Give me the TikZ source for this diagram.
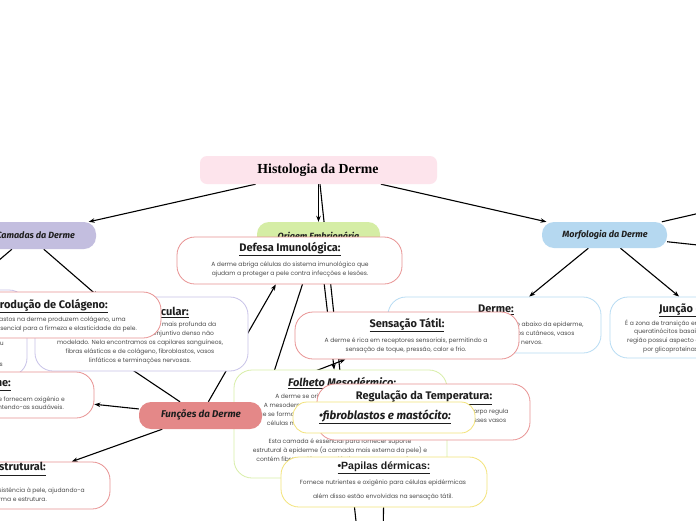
\documentclass[tikz,border=0pt]{standalone}
\usepackage{fontspec}
\setmainfont{Poppins}
\newfontfamily\hand{Fira Sans}
\newfontfamily\rootf{Liberation Serif}
\newfontfamily\robo{Liberation Sans}
\usetikzlibrary{arrows.meta,backgrounds}

\definecolor{rootfill}{HTML}{FDE4EC}
\definecolor{lavfill}{HTML}{C3BEDF}
\definecolor{greenfill}{HTML}{D5EDA5}
\definecolor{bluefill}{HTML}{B5D8F0}
\definecolor{salmonfill}{HTML}{E48888}
\definecolor{pinkline}{HTML}{E89393}
\definecolor{lavline}{HTML}{C8C3E8}
\definecolor{blueline}{HTML}{B8DCF3}
\definecolor{greenline}{HTML}{D8EEA8}
\definecolor{yelline}{HTML}{F3E37A}
\definecolor{bodytxt}{HTML}{4A4A4A}
\definecolor{ttltxt}{HTML}{1E1E1E}

\tikzset{
  conn/.style={line width=1.1pt, black},
  arr/.style={-{Stealth[length=6pt,width=4.5pt]}},
  fbox/.style={rounded corners=12pt, inner sep=0pt, draw=none},
  tbox/.style={rounded corners=18pt, fill=white, line width=0.8pt, inner sep=0pt},
  ttl/.style={inner sep=0pt, font=\hand\bfseries\fontsize{11}{13}\selectfont, text=ttltxt},
  bdy/.style={inner sep=0pt, align=center, font=\fontsize{6}{9}\selectfont, text=bodytxt},
  lbl/.style={inner sep=0pt, font=\hand\bfseries\itshape\fontsize{9}{11}\selectfont, text=ttltxt},
}

\begin{document}
\begin{tikzpicture}[x=1pt,y=-1pt]
\useasboundingbox (0,0) rectangle (696,520);

% root
\node[fbox,fill=rootfill,rounded corners=7pt,minimum width=237pt,minimum height=28pt] (root) at (318.5,170) {};
\node[inner sep=0pt,font=\rootf\bfseries\fontsize{13.8}{16}\selectfont] (rootT) at (318,170.5) {Histologia da Derme};

\node[fbox,fill=lavfill,minimum width=136pt,minimum height=27pt] (camadas) at (28,235.5) {};
\node[lbl,anchor=east] (camadasT) at (75,235) {Camadas da Derme};

\node[fbox,fill=greenfill,minimum width=123pt,minimum height=26pt] (origem) at (318.5,235) {};
\node[lbl] (origemT) at (318.5,236.5) {Origem Embrionária};

\node[fbox,fill=bluefill,minimum width=125pt,minimum height=26pt] (morf) at (604.5,235) {};
\node[lbl] (morfT) at (605,234.5) {Morfologia da Derme};

% defesa
\node[tbox,draw=pinkline,minimum width=225pt,minimum height=47pt] (defesa) at (289.5,260.5) {};
\node[ttl] (defesaT) at (290,249) {\underline{Defesa Imunológica:}};
\node[bdy] (defesaB) at (290,269.5) {A derme abriga células do sistema imunológico que\\ajudam a proteger a pele contra infecções e lesões.};

% papilar
\node[tbox,draw=lavline,minimum width=227pt,minimum height=86pt] (papilar) at (-86.5,333) {};
\node[bdy,anchor=east] (papilarB1) at (4,343) {É a camada mais superficial, formada por tecido conjuntivo frouxo ou};
\node[bdy,anchor=east] (papilarB2) at (3,365) {capilares sanguíneos e terminações nervosas};

% reticular
\node[tbox,draw=lavline,minimum width=213pt,minimum height=74pt] (reticular) at (141.5,334) {};
\node[ttl,anchor=east] (reticularT) at (189,312) {\underline{Camada Reticular:}};
\node[bdy] (reticularB) at (140,343) {A camada reticular é a camada mais profunda da\\derme, formada por tecido conjuntivo denso não\\modelado. Nela encontramos os capilares sanguíneos,\\fibras elásticas e de colágeno, fibroblastos, vasos\\linfáticos e terminações nervosas.};

% producao
\node[tbox,draw=pinkline,minimum width=221pt,minimum height=46pt] (producao) at (50.5,315) {};
\node[ttl,anchor=east] (producaoT) at (108,306) {\underline{Produção de Colágeno:}};
\node[bdy,anchor=east] (producaoB1) at (126,320) {Os fibroblastos na derme produzem colágeno, uma};
\node[bdy,anchor=east] (producaoB2) at (137,329) {proteína essencial para a firmeza e elasticidade da pele.};

% nutricao
\node[tbox,draw=pinkline,minimum width=174pt,minimum height=46pt] (nutricao) at (7,395) {};
\node[ttl,anchor=east] (nutricaoT) at (11,384) {\underline{Nutrição da Epiderme:}};
\node[bdy,anchor=east] (nutricaoB1) at (65,400) {Os vasos sanguíneos da derme fornecem oxigênio e};
\node[bdy,anchor=east] (nutricaoB2) at (64,408) {nutrientes às células da epiderme, mantendo-as saudáveis.};

% derme
\node[tbox,draw=blueline,minimum width=213pt,minimum height=56pt] (derme) at (494.5,325) {};
\node[ttl] (dermeT) at (496,310) {\underline{Derme:}};
\node[bdy] (dermeB) at (496,334) {A derme é a camada localizada logo abaixo da epiderme,\\contendo tecido conjuntivo, anexos cutâneos, vasos\\sanguíneos, linfáticos e nervos.};

% juncao
\node[tbox,draw=blueline,minimum width=213pt,minimum height=61pt] (juncao) at (716.5,327.5) {};
\node[ttl,anchor=west] (juncaoT) at (659,310) {\underline{Junção dermo-epidérmica:}};
\node[bdy,anchor=west] (juncaoB1) at (625,323) {É a zona de transição entre a epiderme e a derme: os};
\node[bdy,anchor=west] (juncaoB2) at (634,332) {queratinócitos basais se prendem à lâmina basal. Essa};
\node[bdy,anchor=west] (juncaoB3) at (627,341) {região possui aspecto ondulado e é formada};
\node[bdy,anchor=west] (juncaoB4) at (643,350) {por glicoproteínas e colágeno.};

% sensacao
\node[tbox,draw=pinkline,minimum width=224pt,minimum height=47pt] (sensacao) at (407,335.5) {};
\node[ttl] (sensacaoT) at (407,325) {\underline{Sensação Tátil:}};
\node[bdy] (sensacaoB) at (406,345.5) {A derme é rica em receptores sensoriais, permitindo a\\sensação de toque, pressão, calor e frio.};

% folheto
\node[tbox,draw=greenline,minimum width=213pt,minimum height=108pt] (folheto) at (340.5,424) {};
\node[ttl,font=\hand\bfseries\itshape\fontsize{11}{13}\selectfont,anchor=west] (folhetoT) at (288,383) {\underline{Folheto Mesodérmico:}};
\node[bdy] (folhetoB) at (340,428.5) {A derme se origina a partir da mesoderme.\\A mesoderme é um dos três folhetos embrionários\\que se formam durante o desenvolvimento embrionário,\\células mesenquimais que dão origem à derme.\\[9pt]Esta camada é essencial para fornecer suporte\\estrutural à epiderme (a camada mais externa da pele) e\\contém fibras colágenas, elásticas e vasos sanguíneos.};

% regulacao
\node[tbox,draw=pinkline,minimum width=213pt,minimum height=56pt] (regulacao) at (423.5,412) {};
\node[ttl] (regulacaoT) at (424,398) {\underline{Regulação da Temperatura:}};
\node[bdy] (regulacaoB) at (424,421) {Através dos vasos sanguíneos da derme, o corpo regula\\sua temperatura, dilatando ou contraindo esses vasos\\sanguíneos.};

% fibroblastos
\node[tbox,draw=yelline,rounded corners=14pt,minimum width=182pt,minimum height=31pt] (fibro) at (384,417.5) {};
\node[ttl,font=\hand\bfseries\itshape\fontsize{11.5}{13}\selectfont] (fibroT) at (385,417) {\underline{•fibroblastos e mastócito:}};

% papilas
\node[tbox,draw=yelline,minimum width=206pt,minimum height=50pt] (papilas) at (384,482) {};
\node[ttl,font=\robo\bfseries\fontsize{10.5}{12}\selectfont] (papilasT) at (384,468) {\underline{•Papilas dérmicas:}};
\node[bdy,font=\fontsize{6}{14}\selectfont] (papilasB) at (383,490) {Fornece nutrientes e oxigênio para células epidérmicas\\além disso estão envolvidas na sensação tátil.};

% funcoes
\node[fbox,fill=salmonfill,minimum width=123pt,minimum height=27pt] (funcoes) at (200.5,415.5) {};
\node[lbl,font=\hand\bfseries\itshape\fontsize{9.8}{12}\selectfont] (funcoesT) at (201,414.5) {Funções da Derme};

% suporte
\node[tbox,draw=pinkline,minimum width=210pt,minimum height=47pt] (suporte) at (5,485.5) {};
\node[ttl,anchor=east] (suporteT) at (46,469) {\underline{Suporte Estrutural:}};
\node[bdy,anchor=east] (suporteB1) at (85,491) {O colágeno e a elastina dão resistência à pele, ajudando-a};
\node[bdy,anchor=east] (suporteB2) at (47,499) {a manter sua forma e estrutura.};

% free ends
\coordinate (belowA) at (358,540);
\coordinate (hidC) at (255,430);
\coordinate (belowP) at (383,540);
\coordinate (offA) at (800,190);
\coordinate (offB) at (800,256);

\begin{pgfonlayer}{background}
\fill[white] (0,0) rectangle (696,520);
\draw[conn,arr] (root) -- (camadas);
\draw[conn,arr] (root) -- (morf);
\draw[conn,arr] (root) -- (origem);
\draw[conn] (root) -- (belowA);
\draw[conn,arr] (origem) -- (folheto);
\draw[conn] (origem) -- (hidC);
\draw[conn,arr] (camadas) -- (reticular);
\draw[conn,arr] (camadas) -- (papilar);
\draw[conn,arr] (morf) -- (derme);
\draw[conn,arr] (morf) -- (juncao);
\draw[conn] (morf) -- (offA);
\draw[conn] (morf) -- (offB);
\draw[conn,arr] (funcoes) -- (defesa);
\draw[conn,arr] (funcoes) -- (sensacao);
\draw[conn,arr] (funcoes) -- (nutricao);
\draw[conn,arr] (funcoes) -- (suporte);
\draw[conn,arr] (funcoes) -- (producao);
\draw[conn] (papilas) -- (belowP);
\end{pgfonlayer}
\end{tikzpicture}
\end{document}
